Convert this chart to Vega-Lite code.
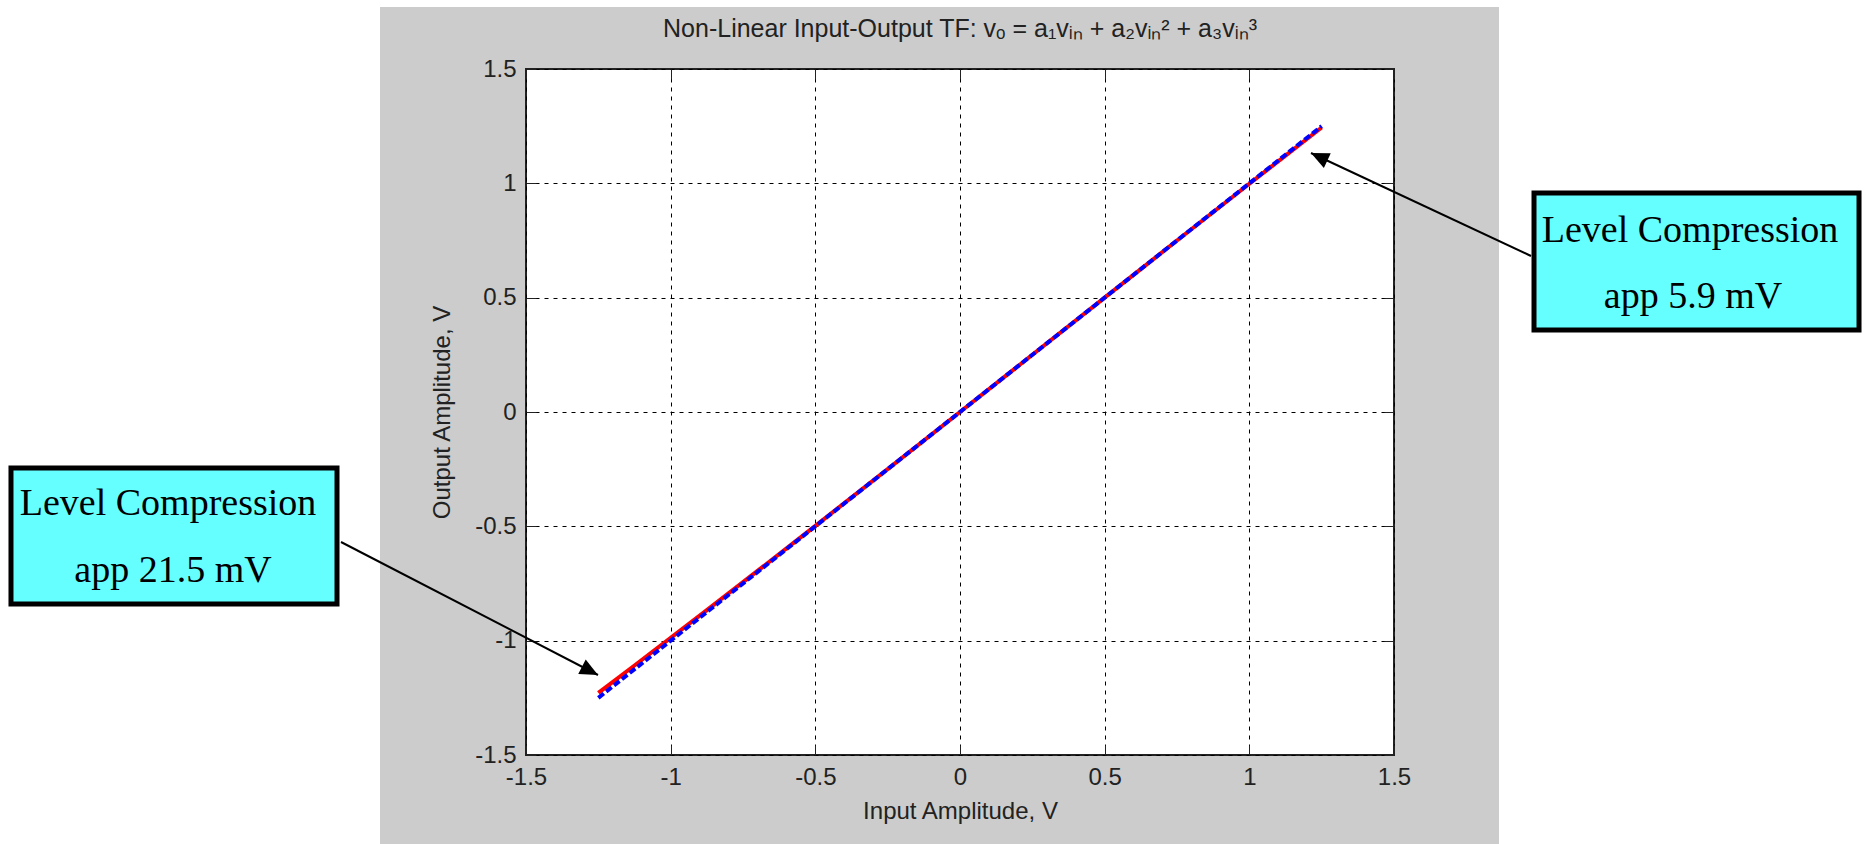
{
  "$schema": "https://vega.github.io/schema/vega-lite/v6.json",
  "width": 868,
  "height": 686,
  "autosize": {"type": "none"},
  "padding": {"left": 526, "top": 69, "right": 472, "bottom": 89},
  "background": "#cccccc",
  "config": {
    "view": {"fill": "white", "stroke": "#222222", "strokeWidth": 2},
    "axis": {
      "labelFont": "Liberation Sans",
      "labelFontSize": 24,
      "labelColor": "#222222",
      "titleFont": "Liberation Sans",
      "titleFontSize": 24,
      "titleFontWeight": "normal",
      "titleColor": "#222222",
      "domain": false,
      "tickColor": "#222222",
      "tickSize": -10,
      "tickWidth": 1,
      "gridColor": "black",
      "gridDash": [4, 5],
      "gridWidth": 1,
      "gridOpacity": 1
    },
    "title": {
      "font": "Liberation Sans",
      "fontSize": 25,
      "fontWeight": "normal",
      "color": "#222222"
    }
  },
  "title": {
    "text": "Non-Linear Input-Output TF: vₒ = a₁vᵢₙ + a₂vᵢₙ² + a₃vᵢₙ³",
    "anchor": "middle",
    "frame": "group",
    "baseline": "alphabetic",
    "offset": -62
  },
  "datasets": {
    "curves": [
      {"x": -1.25, "y": -1.2285, "series": "Non-linear output"},
      {"x": -1.125, "y": -1.1085, "series": "Non-linear output"},
      {"x": -1.0, "y": -0.988, "series": "Non-linear output"},
      {"x": -0.875, "y": -0.8665, "series": "Non-linear output"},
      {"x": -0.75, "y": -0.7443, "series": "Non-linear output"},
      {"x": -0.625, "y": -0.6213, "series": "Non-linear output"},
      {"x": -0.5, "y": -0.4979, "series": "Non-linear output"},
      {"x": -0.25, "y": -0.2496, "series": "Non-linear output"},
      {"x": 0.0, "y": 0.0, "series": "Non-linear output"},
      {"x": 0.25, "y": 0.2502, "series": "Non-linear output"},
      {"x": 0.5, "y": 0.5004, "series": "Non-linear output"},
      {"x": 0.75, "y": 0.7499, "series": "Non-linear output"},
      {"x": 1.0, "y": 0.998, "series": "Non-linear output"},
      {"x": 1.125, "y": 1.1213, "series": "Non-linear output"},
      {"x": 1.25, "y": 1.2441, "series": "Non-linear output"},
      {"x": -1.25, "y": -1.25, "series": "Linear"},
      {"x": -1.0, "y": -1.0, "series": "Linear"},
      {"x": -0.5, "y": -0.5, "series": "Linear"},
      {"x": 0.0, "y": 0.0, "series": "Linear"},
      {"x": 0.5, "y": 0.5, "series": "Linear"},
      {"x": 1.0, "y": 1.0, "series": "Linear"},
      {"x": 1.25, "y": 1.25, "series": "Linear"}
    ],
    "outside": [
      {"x": -3.318, "x2": -2.0046, "y": -1.889, "y2": 1.8018},
      {"x": 1.8629, "x2": 3.1314, "y": -1.889, "y2": 1.8018},
      {"x": -3.318, "x2": 3.1314, "y": 1.7711, "y2": 1.8018}
    ],
    "boxes": [
      {"x": -3.28, "x2": -2.1532, "y": -0.2449, "y2": -0.8396},
      {"x": 1.9839, "x2": 3.1072, "y": 0.9577, "y2": 0.3586}
    ],
    "arrows": [
      {"x": -2.1394, "y": -0.5685, "x2": -1.2512, "y2": -1.1501, "angle": 117.4},
      {"x": 1.9735, "y": 0.6822, "x2": 1.2131, "y2": 1.1327, "angle": 295.1}
    ],
    "labels": [
      {"x": -2.7373, "y": -0.4504, "text": "Level Compression"},
      {"x": -2.72, "y": -0.7434, "text": "app 21.5 mV"},
      {"x": 2.5231, "y": 0.7434, "text": "Level Compression"},
      {"x": 2.5335, "y": 0.4548, "text": "app 5.9 mV"}
    ]
  },
  "resolve": {"axis": {"x": "independent", "y": "independent"}},
  "layer": [
    {
      "data": {"name": "curves"},
      "transform": [{"filter": "datum.series === 'Non-linear output'"}],
      "mark": {"type": "line", "color": "#ff0000", "strokeWidth": 4, "clip": true},
      "encoding": {
        "x": {
          "field": "x", "type": "quantitative",
          "scale": {"domain": [-1.5, 1.5], "nice": false, "zero": false},
          "axis": {
            "values": [-1.5, -1, -0.5, 0, 0.5, 1, 1.5],
            "title": "Input Amplitude, V",
            "labelPadding": 20,
            "titlePadding": 10,
            "labelExpr": "toString(datum.value)",
            "labelFlush": false
          }
        },
        "y": {
          "field": "y", "type": "quantitative",
          "scale": {"domain": [-1.5, 1.5], "nice": false, "zero": false},
          "axis": {
            "values": [-1.5, -1, -0.5, 0, 0.5, 1, 1.5],
            "title": "Output Amplitude, V",
            "labelPadding": 20,
            "titlePadding": 20,
            "labelExpr": "toString(datum.value)",
            "labelFlush": false
          }
        }
      }
    },
    {
      "data": {"name": "curves"},
      "transform": [{"filter": "datum.series === 'Linear'"}],
      "mark": {"type": "line", "color": "#0000ff", "strokeWidth": 4, "strokeDash": [7, 3], "clip": true},
      "encoding": {
        "x": {
          "field": "x", "type": "quantitative",
          "axis": {"orient": "top", "values": [-1.5, -1, -0.5, 0, 0.5, 1, 1.5], "labels": false, "grid": false, "title": null}
        },
        "y": {
          "field": "y", "type": "quantitative",
          "axis": {"orient": "right", "values": [-1.5, -1, -0.5, 0, 0.5, 1, 1.5], "labels": false, "grid": false, "title": null}
        }
      }
    },
    {
      "data": {"name": "outside"},
      "mark": {"type": "rect", "color": "white"},
      "encoding": {
        "x": {"field": "x", "type": "quantitative", "axis": null},
        "x2": {"field": "x2"},
        "y": {"field": "y", "type": "quantitative", "axis": null},
        "y2": {"field": "y2"}
      }
    },
    {
      "data": {"name": "arrows"},
      "mark": {"type": "rule", "color": "black", "strokeWidth": 2},
      "encoding": {
        "x": {"field": "x", "type": "quantitative", "axis": null},
        "x2": {"field": "x2"},
        "y": {"field": "y", "type": "quantitative", "axis": null},
        "y2": {"field": "y2"}
      }
    },
    {
      "data": {"name": "arrows"},
      "mark": {"type": "point", "shape": "M0,0L-0.45,1L0.45,1Z", "filled": true, "color": "black", "opacity": 1, "size": 1300},
      "encoding": {
        "x": {"field": "x2", "type": "quantitative", "axis": null},
        "y": {"field": "y2", "type": "quantitative", "axis": null},
        "angle": {"field": "angle", "type": "quantitative", "scale": null}
      }
    },
    {
      "data": {"name": "boxes"},
      "mark": {"type": "rect", "fill": "#66ffff", "stroke": "black", "strokeWidth": 5},
      "encoding": {
        "x": {"field": "x", "type": "quantitative", "axis": null},
        "x2": {"field": "x2"},
        "y": {"field": "y", "type": "quantitative", "axis": null},
        "y2": {"field": "y2"}
      }
    },
    {
      "data": {"name": "labels"},
      "mark": {"type": "text", "font": "Liberation Serif", "fontSize": 38, "color": "black", "align": "center", "baseline": "alphabetic"},
      "encoding": {
        "x": {"field": "x", "type": "quantitative", "axis": null},
        "y": {"field": "y", "type": "quantitative", "axis": null},
        "text": {"field": "text"}
      }
    }
  ]
}
